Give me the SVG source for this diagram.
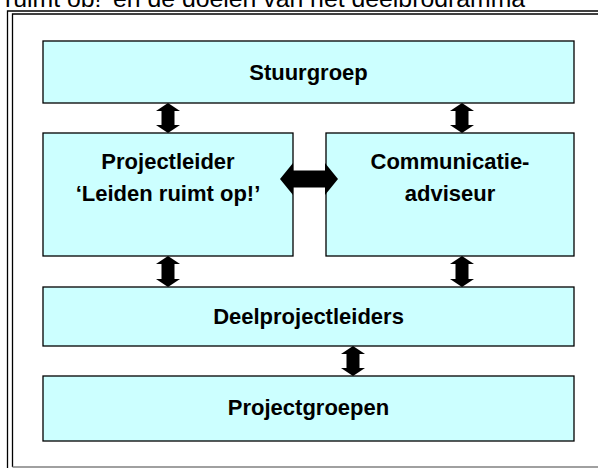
<svg xmlns="http://www.w3.org/2000/svg" width="598" height="468" viewBox="0 0 598 468">
<style>
.box{fill:#CCFFFF;stroke:#000;stroke-width:1.3}
.lbl{font-family:"Liberation Sans",Arial,sans-serif;font-weight:bold;font-size:22px;fill:#000;text-anchor:middle}
.arr{fill:#000}
.frame{fill:none;stroke:#000;stroke-width:1.3}
</style>
<defs>
<clipPath id="topclip"><rect x="0" y="0" width="598" height="7"/></clipPath>
</defs>
<rect x="0" y="0" width="598" height="468" fill="#fff"/>
<text x="5" y="6.5" clip-path="url(#topclip)" style="font-family:'Liberation Sans',Arial,sans-serif;font-size:24.8px;fill:#000">ruimt op!’ en de doelen van het deelprogramma</text>
<g id="frame">
<polyline class="frame" points="7.5,468 7.5,11 598,11"/>
<polyline class="frame" points="12.5,467 12.5,14 598,14"/>
<line x1="12.5" y1="467" x2="598" y2="467" stroke="#808080" stroke-width="1.3"/>
</g>
<g id="stuurgroep">
<rect class="box" x="43" y="41" width="531" height="62"/>
<text class="lbl" x="308.5" y="80">Stuurgroep</text>
</g>
<g id="projectleider">
<rect class="box" x="43" y="133" width="250" height="123"/>
<text class="lbl" x="168" y="169">Projectleider</text>
<text class="lbl" x="168" y="201">‘Leiden ruimt op!’</text>
</g>
<g id="communicatieadviseur">
<rect class="box" x="326" y="133" width="248" height="123"/>
<text class="lbl" x="450" y="169">Communicatie-</text>
<text class="lbl" x="450" y="201">adviseur</text>
</g>
<g id="deelprojectleiders">
<rect class="box" x="43" y="287" width="531" height="59"/>
<text class="lbl" x="308.5" y="324">Deelprojectleiders</text>
</g>
<g id="projectgroepen">
<rect class="box" x="43" y="376" width="531" height="65"/>
<text class="lbl" x="308.5" y="415">Projectgroepen</text>
</g>
<g id="connectors">
<polygon class="arr" points="168,103 180,111 174.5,111 174.5,125 180,125 168,133 156,125 161.5,125 161.5,111 156,111"/>
<polygon class="arr" points="462,103 474,111 468.5,111 468.5,125 474,125 462,133 450,125 455.5,125 455.5,111 450,111"/>
<polygon class="arr" points="168,256 180,264 174.5,264 174.5,279 180,279 168,287 156,279 161.5,279 161.5,264 156,264"/>
<polygon class="arr" points="462,256 474,264 468.5,264 468.5,279 474,279 462,287 450,279 455.5,279 455.5,264 450,264"/>
<polygon class="arr" points="353,346 365,354 359.5,354 359.5,368 365,368 353,376 341,368 346.5,368 346.5,354 341,354"/>
<polygon class="arr" points="280,179 293,163 293,170.5 325,170.5 325,163 338,179 325,195 325,187.5 293,187.5 293,195"/>
</g>
</svg>
